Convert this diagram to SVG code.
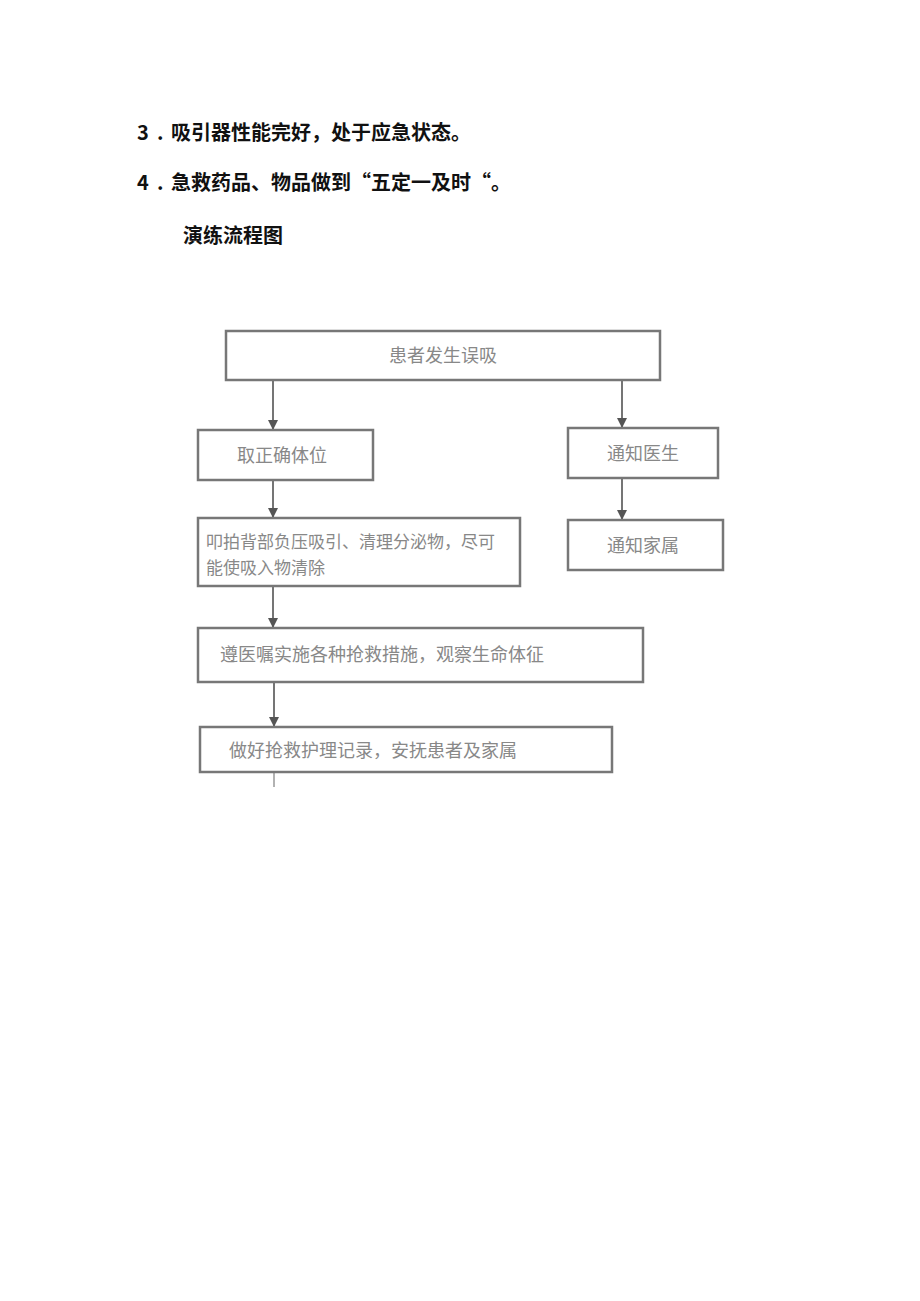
<svg xmlns="http://www.w3.org/2000/svg" width="920" height="1301" viewBox="0 0 920 1301">
<style>
.h{font-family:"Noto Sans CJK SC",sans-serif;font-size:20px;font-weight:bold;fill:#111}
.b{fill:#fff;stroke:#777;stroke-width:2.5}
.t{font-family:"Noto Sans CJK SC",sans-serif;font-size:18px;fill:#888}
.s{font-size:17px}
.c{stroke:#666;stroke-width:1.8;fill:none;marker-end:url(#a)}
</style>
<defs><marker id="a" markerWidth="10" markerHeight="10" refX="9" refY="5" orient="auto" markerUnits="userSpaceOnUse"><path d="M0,0L10,5L0,10z" fill="#555"/></marker></defs>
<rect width="920" height="1301" fill="#fff"/>
<text class="h" x="137" y="140">3<tspan x="157">.</tspan><tspan x="171">吸引器性能完好，处于应急状态。</tspan></text>
<text class="h" x="137" y="190">4<tspan x="157">.</tspan><tspan x="171">急救药品、物品做到“五定一及时“。</tspan></text>
<text class="h" x="183" y="243">演练流程图</text>
<g id="connectors">
<line class="c" x1="273" y1="381" x2="273" y2="429"/>
<line class="c" x1="622" y1="381" x2="622" y2="427"/>
<line class="c" x1="273" y1="481" x2="273" y2="517"/>
<line class="c" x1="622" y1="479" x2="622" y2="519"/>
<line class="c" x1="273" y1="587" x2="273" y2="627"/>
<line class="c" x1="274" y1="683" x2="274" y2="726"/>
<line stroke="#999" stroke-width="1.5" x1="274" y1="773" x2="274" y2="787"/>
</g>
<g id="n1"><rect class="b" x="226" y="331" width="434" height="49"/><text class="t" x="443" y="362" text-anchor="middle">患者发生误吸</text></g>
<g id="n2"><rect class="b" x="198" y="430" width="175" height="50"/><text class="t" x="282" y="462" text-anchor="middle">取正确体位</text></g>
<g id="n3"><rect class="b" x="568" y="428" width="150" height="50"/><text class="t" x="643" y="460" text-anchor="middle">通知医生</text></g>
<g id="n4"><rect class="b" x="568" y="520" width="155" height="50"/><text class="t" x="643" y="552" text-anchor="middle">通知家属</text></g>
<g id="n5"><rect class="b" x="198" y="518" width="322" height="68"/><text class="t s" x="206" y="548">叩拍背部负压吸引、清理分泌物，尽可</text><text class="t s" x="206" y="574">能使吸入物清除</text></g>
<g id="n6"><rect class="b" x="198" y="628" width="445" height="54"/><text class="t" x="220" y="661">遵医嘱实施各种抢救措施，观察生命体征</text></g>
<g id="n7"><rect class="b" x="200" y="727" width="412" height="45"/><text class="t" x="229" y="757">做好抢救护理记录，安抚患者及家属</text></g>
</svg>
